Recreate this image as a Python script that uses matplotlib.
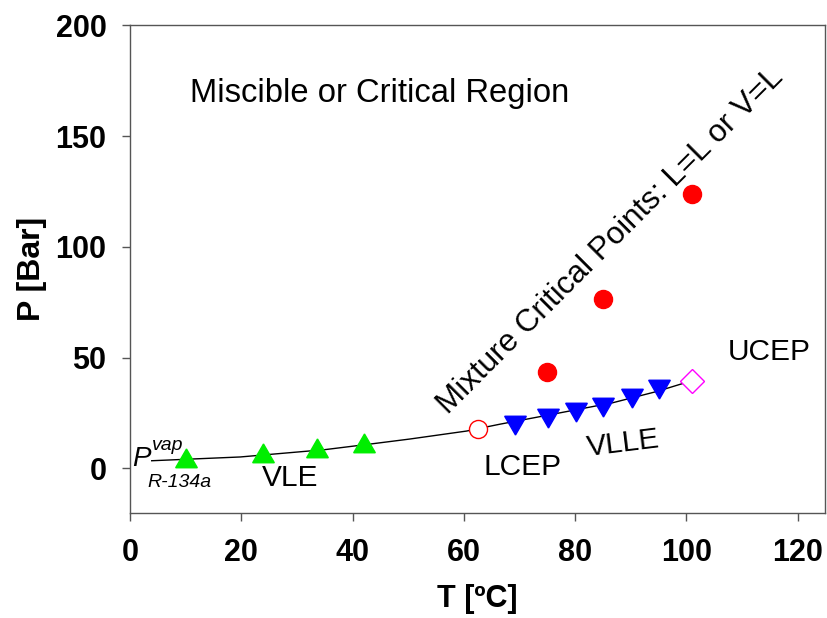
import matplotlib
matplotlib.use("Agg")
import matplotlib.pyplot as plt

plt.rcParams['font.family'] = ['Liberation Sans', 'DejaVu Sans']

# VLE data (green up triangles)
vle_T = [10.1, 23.9, 33.6, 42.0]
vle_P = [3.5, 5.7, 7.8, 10.2]

# VLLE data (blue down triangles)
vlle_T = [69.2, 75.1, 80.1, 85.0, 90.2, 95.1]
vlle_P = [20.9, 24.1, 26.9, 29.1, 33.2, 37.1]

# mixture critical points (red filled circles)
crit_T = [74.9, 85.0, 101.0]
crit_P = [43.3, 76.3, 123.7]

# LCEP / UCEP
lcep_T, lcep_P = [62.6], [17.9]
ucep_T, ucep_P = [101.1], [39.6]

# R-134a vapour pressure curve
pvap_T = [3.9, 19.8, 35.0, 43.7, 50.3, 60.5, 62.6, 66.5, 76.0, 86.8, 94.6, 101.1]
pvap_P = [3.4, 5.1, 8.4, 11.1, 13.2, 16.8, 17.9, 19.9, 24.4, 29.6, 34.6, 39.6]

fig = plt.figure(figsize=(8.27, 6.18), dpi=100)
ax = fig.add_axes([0.1572, 0.1706, 0.8408, 0.7885])

ax.plot(pvap_T, pvap_P, color='black', lw=1.0, zorder=2)
ax.plot(vle_T, vle_P, ls='none', marker=(3, 0, 0), ms=18, color='#00ee00', mec='#00ee00', zorder=3)
ax.plot(vlle_T, vlle_P, ls='none', marker=(3, 0, 180), ms=18, color='#0000ff', mec='#0000ff', zorder=3)
ax.plot(crit_T, crit_P, ls='none', marker='o', ms=13, color='#ff0000', mec='#ff0000', zorder=3)
ax.plot(lcep_T, lcep_P, ls='none', marker='o', ms=13, mfc='white', mec='#ff0000', mew=1.0, zorder=4)
ax.plot(ucep_T, ucep_P, ls='none', marker='D', ms=12, mfc='white', mec='#ff00ff', mew=1.0, zorder=4)

ax.set_xlim(0, 125)
ax.set_ylim(-20, 200)
ax.set_xticks([0, 20, 40, 60, 80, 100, 120])
ax.set_yticks([0, 50, 100, 150, 200])
ax.tick_params(direction='out', length=6, width=1, colors='#555555', labelcolor='black', labelsize=22)
ax.tick_params(axis='x', pad=12)
ax.tick_params(axis='y', pad=11)
for lab in ax.get_xticklabels() + ax.get_yticklabels():
    lab.set_fontweight('bold')
for s in ax.spines.values():
    s.set_color('#555555')
    s.set_linewidth(1)

ax.set_xlabel('T [ºC]', fontsize=22, fontweight='bold', labelpad=12)
ax.set_ylabel('P [Bar]', fontsize=23, fontweight='bold', labelpad=6)

ax.text(44.9, 169, 'Miscible or Critical Region', fontsize=23.6, ha='center', va='center')
ax.text(86.4, 102.5, 'Mixture Critical Points: L=L or V=L', fontsize=22.6, rotation=45,
        ha='center', va='center', rotation_mode='anchor')
ax.text(115.0, 52.4, 'UCEP', fontsize=21.5, ha='center', va='center')
ax.text(88.6, 11.3, 'VLLE', fontsize=21.5, rotation=7, ha='center', va='center', rotation_mode='anchor')
ax.text(70.5, 0.5, 'LCEP', fontsize=21.5, ha='center', va='center')
ax.text(28.8, -4.5, 'VLE', fontsize=21.5, ha='center', va='center')
ax.text(0.3, 1.0, 'P', fontsize=20, style='italic', ha='left', va='baseline')
ax.text(3.9, 8.3, 'vap', fontsize=14, style='italic', ha='left', va='baseline')
ax.text(3.2, -8.6, 'R-134a', fontsize=14, style='italic', ha='left', va='baseline')

fig.savefig('out.png', dpi=100)
